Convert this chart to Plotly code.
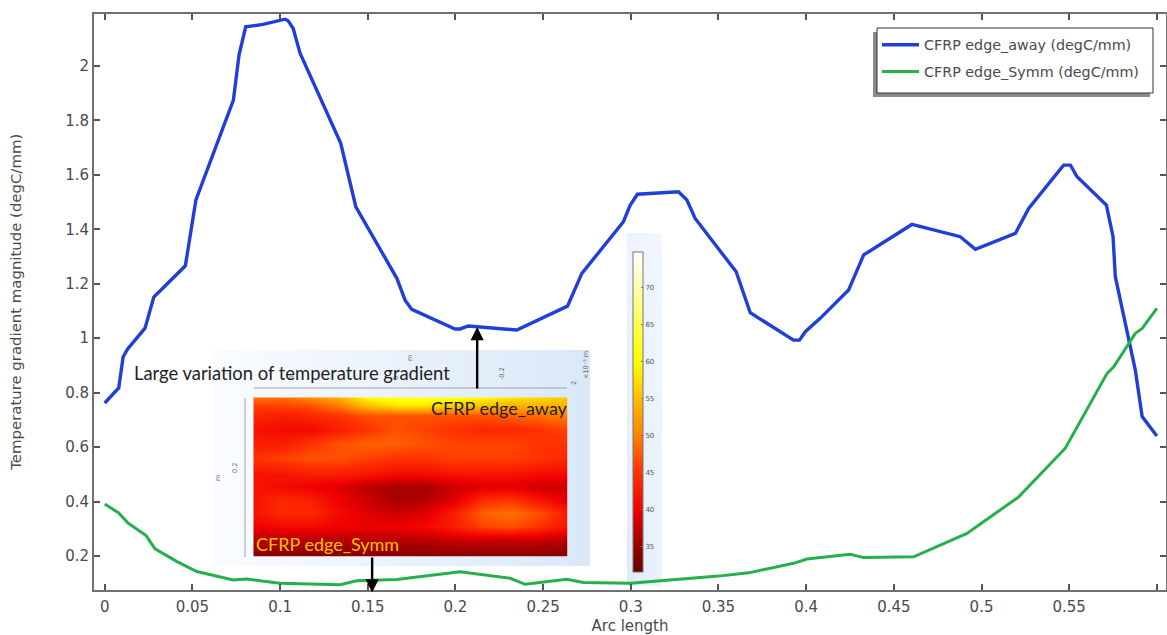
import plotly.graph_objects as go

W, H = 1167, 635

# ---- data ----
away_x = [0, .008, .0105, .013, .023, .028, .046, .052, .0734, .0766, .0804, .0903, .1028, .1046, .1075, .1114,
          .1346, .1432, .1666, .1713, .1751, .1856, .1998, .2027, .2074, .235, .2639, .2721, .2958, .2997, .3038,
          .3272, .332, .3367, .3601, .3681, .3928, .3962, .3995, .408, .4242, .4328, .4603, .4879, .4965, .5193,
          .5269, .5468, .5507, .5545, .5712, .575, .5763, .5877, .5916, .6]
away_y = [.762, .817, .931, .96, 1.037, 1.151, 1.266, 1.508, 1.875, 2.04, 2.144, 2.153, 2.172, 2.166, 2.138, 2.047,
          1.716, 1.483, 1.22, 1.14, 1.106, 1.076, 1.034, 1.034, 1.045, 1.03, 1.118, 1.238, 1.428, 1.489, 1.529,
          1.538, 1.508, 1.44, 1.244, 1.094, .993, .993, 1.024, 1.073, 1.177, 1.306, 1.418, 1.373, 1.327, 1.385,
          1.477, 1.636, 1.636, 1.593, 1.489, 1.373, 1.226, .883, .712, .641]
symm_x = [0, .008, .0133, .0236, .0287, .041, .0525, .0733, .081, .1, .1342, .1437, .1666, .2027, .2312, .2398,
          .2635, .273, .2997, .3282, .35, .3672, .3928, .4005, .4252, .4328, .4613, .4917, .5212, .5478, .5716,
          .5754, .5877, .5916, .6]
symm_y = [.391, .358, .321, .275, .226, .18, .143, .112, .115, .1, .094, .109, .114, .142, .118, .096,
          .114, .103, .1, .114, .126, .138, .173, .189, .206, .194, .197, .283, .417, .596, .871,
          .895, 1.018, 1.036, 1.11]
x_ticks = [0, .05, .1, .15, .2, .25, .3, .35, .4, .45, .5, .55, .6]
y_ticks = [.2, .4, .6, .8, 1, 1.2, 1.4, 1.6, 1.8, 2]

temp_x = [0, 1, 2, 3, 4, 5, 6, 7, 8, 9, 10, 11]
temp_y = [0, .05, .11, .2, .29, .38, .48, .56, .64, .73, .81, .89, 1]
temp_z = [
    [49, 49, 51, 54, 60, 62, 62, 61, 60, 58, 57, 56],
    [46, 46, 47, 50, 55, 58, 58, 56, 55, 54, 54, 54],
    [44, 43, 44, 45, 47, 47, 47, 47, 47, 48, 49, 50],
    [42, 41, 41, 43, 45, 47, 46, 45, 44, 44, 45, 46],
    [43, 43, 45, 47, 48, 48, 47, 46, 46, 46, 45, 45],
    [45, 46, 47, 47, 46, 45, 45, 46, 46, 46, 45, 44],
    [42, 42, 43, 43, 42, 41, 41, 42, 42, 42, 41, 41],
    [42, 41, 40, 39, 37, 36, 36, 38, 39, 39, 38, 38],
    [42, 44, 43, 40, 38, 36, 36.5, 39, 44, 45, 42, 39],
    [42, 44, 44, 41, 39, 38, 39, 43, 48, 49, 47, 43],
    [40, 41, 41, 40, 40, 40, 41, 43, 46, 47, 45, 42],
    [37, 37, 37, 37, 37, 37, 37, 38, 38, 38, 38, 37],
    [34, 34, 34, 34, 34, 34, 34, 34, 34, 34, 34, 34],
]
cb_ticks = [35, 40, 45, 50, 55, 60, 65, 70]
z_min, z_max = 31.6, 74.8
thermal = [(31.6, "#640000"), (35, "#960000"), (40, "#f00000"), (45, "#ff3200"), (50, "#ff8000"),
           (55, "#ffbe00"), (60, "#ffff00"), (65, "#ffff50"), (70, "#ffffb0"), (74.8, "#ffffff")]

INK = "#4a4a4a"
AXIS = "#707070"
BLUE = "#1f3fd8"
GREEN = "#26b04a"

def fx(px):
    return px / W

def fy(py):
    return 1 - py / H

def dom_x(a, b):
    return [fx(a), fx(b)]

def dom_y(top, bottom):
    return [fy(bottom), fy(top)]

fig = go.Figure()

# pale panels behind the embedded contour plot and its colour bar
fig.add_trace(go.Heatmap(z=[[0, 1]], x=[0, 1], y=[0], zsmooth="best", showscale=False, hoverinfo="skip",
                         colorscale=[[0, "#fafcff"], [1, "#d9e8f8"]], xaxis="x", yaxis="y"))
fig.add_trace(go.Heatmap(z=[[1, .6], [.5, .3]], x=[0, 1], y=[0, 1], zsmooth="best", showscale=False, hoverinfo="skip",
                         zmin=0, zmax=1, colorscale=[[0, "#fafcff"], [1, "#dfebfa"]], xaxis="x3", yaxis="y3"))

fig.add_trace(go.Heatmap(
    z=temp_z, x=temp_x, y=temp_y, zmin=z_min, zmax=z_max, zsmooth="best", hoverinfo="skip",
    colorscale=[[(v - z_min) / (z_max - z_min), c] for v, c in thermal],
    xaxis="x2", yaxis="y2",
    colorbar=dict(x=fx(633), xanchor="left", y=fy(412), yanchor="middle", len=320, lenmode="pixels",
                  thickness=10, thicknessmode="pixels", xpad=0, ypad=0,
                  outlinecolor="#777", outlinewidth=1, tickvals=cb_ticks, ticks="inside", ticklen=2,
                  tickcolor="#777", tickfont=dict(family="DejaVu Sans", size=7, color="#555"), bgcolor="rgba(0,0,0,0)"),
))

fig.add_trace(go.Scatter(x=away_x, y=away_y, mode="lines", name="CFRP edge_away (degC/mm)", legendgroup="a",
                         line=dict(color=BLUE, width=3.4), xaxis="x4", yaxis="y4"))
fig.add_trace(go.Scatter(x=symm_x, y=symm_y, mode="lines", name="CFRP edge_Symm (degC/mm)", legendgroup="b",
                         line=dict(color=GREEN, width=3), xaxis="x4", yaxis="y4"))

hidden = dict(visible=False, fixedrange=True)
main_axis = dict(showgrid=False, zeroline=False, showline=True, linecolor=AXIS, linewidth=2, mirror="ticks",
                 ticks="inside", ticklen=6, tickwidth=1.5, tickcolor="#555",
                 tickfont=dict(family="DejaVu Sans", size=15, color=INK))

fig.update_layout(
    width=W, height=H, autosize=False, margin=dict(l=0, r=0, t=0, b=0), paper_bgcolor="white", plot_bgcolor="rgba(0,0,0,0)",
    font=dict(family="DejaVu Sans", color=INK),
    xaxis=dict(hidden, domain=dom_x(213, 590), range=[0, 1], anchor="y"),
    yaxis=dict(hidden, domain=dom_y(350, 566), range=[-.5, .5], anchor="x"),
    xaxis2=dict(hidden, domain=dom_x(253.3, 567.7), range=[0, 11], anchor="y2"),
    yaxis2=dict(hidden, domain=dom_y(397.3, 556.7), range=[1, 0], anchor="x2"),
    xaxis3=dict(hidden, domain=dom_x(627, 662), range=[0, 1], anchor="y3"),
    yaxis3=dict(hidden, domain=dom_y(233, 586), range=[0, 1], anchor="x3"),
    xaxis4=dict(main_axis, domain=dom_x(94, 1166), range=[-.0061, .6052], anchor="y4", tickvals=x_ticks, ticklabelstandoff=2,
                title=dict(text="Arc length", font=dict(family="DejaVu Sans", size=15, color=INK), standoff=5)),
    yaxis4=dict(main_axis, domain=dom_y(13.5, 590), range=[.075, 2.193], anchor="x4", tickvals=y_ticks,
                title=dict(text="Temperature gradient magnitude (degC/mm)", font=dict(family="DejaVu Sans", size=14.9, color=INK), standoff=40)),
    legend=dict(x=fx(877), xanchor="left", y=fy(29), yanchor="top", bgcolor="rgba(0,0,0,0)", borderwidth=0,
                font=dict(family="DejaVu Sans", size=14.3, color=INK), itemwidth=37, tracegroupgap=5,
                entrywidth=232, entrywidthmode="pixels"),
    showlegend=True,
    shapes=[
        # legend drop shadow and box
        dict(type="rect", xref="paper", yref="paper", x0=fx(873), x1=fx(1150), y0=fy(97), y1=fy(32),
             fillcolor="#8a8a8a", line=dict(width=0), layer="above"),
        dict(type="rect", xref="paper", yref="paper", x0=fx(877), x1=fx(1153), y0=fy(93), y1=fy(28),
             fillcolor="white", line=dict(color="#333", width=1), layer="above"),
        # thin axis lines of the embedded plot
        dict(type="line", xref="paper", yref="paper", x0=fx(254), x1=fx(567), y0=fy(388), y1=fy(388),
             line=dict(color="#9aa4ad", width=1)),
        dict(type="line", xref="paper", yref="paper", x0=fx(245), x1=fx(245), y0=fy(398), y1=fy(557),
             line=dict(color="#9aa4ad", width=1)),
    ],
)

def note(text, px, py, size, color, family="Lato", angle=0, anchor="center"):
    fig.add_annotation(text=text, xref="paper", yref="paper", x=fx(px), y=fy(py), showarrow=False,
                       font=dict(family=family, size=size, color=color), textangle=angle, xanchor=anchor, yanchor="middle")

for px, py, t, a in [(410, 358, "m", -90), (502, 374, "-0.2", -90), (574, 383, "2", -90), (586, 365, "×10⁻³ m", -90),
                     (235, 468, "0.2", -90), (218, 478, "m", -90), (292, 378, "0", -90), (396, 378, "0", -90)]:
    note(t, px, py, 6.5, "#666", family="DejaVu Sans", angle=a)

note("Large variation of temperature gradient", 132, 373, 18.4, "#222", anchor="left")
note("CFRP edge_away", 429, 408, 18, "#222", anchor="left")
note("CFRP edge_Symm", 254, 544, 18, "#ffc000", anchor="left")

for x_val, tail, tip in [(.2124, .81, 1.041), (.1525, .2, .066)]:
    fig.add_annotation(x=x_val, y=tip, ax=x_val, ay=tail, xref="x4", yref="y4", axref="x4", ayref="y4", text="",
                       showarrow=True, arrowhead=2, arrowsize=1.1, arrowwidth=2.4, arrowcolor="black")

fig.write_html("out.html", config={"displayModeBar": False},
               post_script="document.body.style.margin='0';document.body.style.overflow='hidden';")
